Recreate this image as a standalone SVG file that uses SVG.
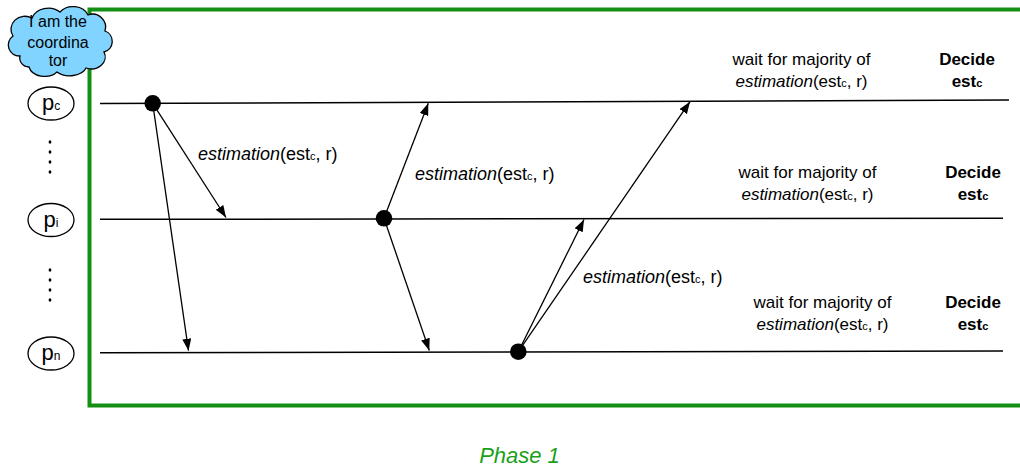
<svg xmlns="http://www.w3.org/2000/svg" width="1020" height="466" viewBox="0 0 1020 466">
<defs>
<style>
.t{font-family:"Liberation Sans",Arial,sans-serif;fill:#000}
.lbl{font-size:18px}
.rt{font-size:17px;text-anchor:middle}
.b{font-weight:bold}
.it{font-style:italic}
.sub{font-size:11px}
.tl{stroke:#000;stroke-width:1.5;fill:none}
.ar{stroke:#000;stroke-width:1.3;fill:none;marker-end:url(#ah)}
.proc{fill:#fff;stroke:#000;stroke-width:1.3}
.pt{font-family:"Liberation Sans",Arial,sans-serif;font-size:22px;text-anchor:middle}
</style>
<marker id="ah" markerUnits="userSpaceOnUse" markerWidth="13" markerHeight="10" refX="12" refY="4.5" orient="auto">
<path d="M0,0 L12,4.5 L0,9 Z" fill="#000"/>
</marker>
</defs>
<rect width="1020" height="466" fill="#fff"/>
<g id="phase-frame">
<path d="M1030,9.5 H89.5 V405.5 H1030" fill="none" stroke="#138f13" stroke-width="4"/>
</g>
<g id="coordinator-cloud">
<path d="M20,56 A11,11 0 0 1 13,36 A14,13 0 0 1 32,18 A17,14 0 0 1 60,12 A16,13 0 0 1 88,15 A13,13 0 0 1 105,31 A11,11 0 0 1 104,52 A14,12 0 0 1 86,68 A17,11 0 0 1 57,72 A16,12 0 0 1 29,67 A9,9 0 0 1 20,56 Z" fill="#80d4ff" stroke="#000" stroke-width="1.3"/>
<text class="t" x="58" y="27" font-size="16" text-anchor="middle">I am the</text>
<text class="t" x="58" y="48" font-size="16" text-anchor="middle">coordina</text>
<text class="t" x="58" y="66" font-size="16" text-anchor="middle">tor</text>
</g>
<g id="pc">
<ellipse class="proc" cx="51" cy="103.5" rx="23" ry="16.5"/>
<text class="pt" x="51" y="110">p<tspan font-size="12">c</tspan></text>
</g>
<g id="pi">
<ellipse class="proc" cx="51" cy="220" rx="23" ry="16.5"/>
<text class="pt" x="51" y="226.5">p<tspan font-size="12">i</tspan></text>
</g>
<g id="pn">
<ellipse class="proc" cx="51" cy="353.5" rx="23" ry="16.5"/>
<text class="pt" x="51" y="360">p<tspan font-size="12">n</tspan></text>
</g>
<g id="ellipsis" fill="#000">
<ellipse cx="50" cy="142" rx="1.4" ry="1.8"/>
<ellipse cx="50" cy="152" rx="1.4" ry="1.8"/>
<ellipse cx="50" cy="162" rx="1.4" ry="1.8"/>
<ellipse cx="50" cy="172" rx="1.4" ry="1.8"/>
<ellipse cx="50" cy="270" rx="1.4" ry="1.8"/>
<ellipse cx="50" cy="280" rx="1.4" ry="1.8"/>
<ellipse cx="50" cy="290" rx="1.4" ry="1.8"/>
<ellipse cx="50" cy="300" rx="1.4" ry="1.8"/>
</g>
<g id="timelines">
<line class="tl" x1="100" y1="103.5" x2="1009" y2="100"/>
<line class="tl" x1="100" y1="219.3" x2="1003" y2="218.3"/>
<line class="tl" x1="100" y1="352.7" x2="1003" y2="351"/>
</g>
<g id="connectors">
<line class="ar" x1="152.7" y1="103.3" x2="226" y2="217.5"/>
<line class="ar" x1="152.7" y1="103.3" x2="188.5" y2="350.7"/>
<line class="ar" x1="384" y1="218.3" x2="428.3" y2="103.3"/>
<line class="ar" x1="384" y1="218.3" x2="429.3" y2="350.5"/>
<line class="ar" x1="518.3" y1="351.7" x2="584" y2="219.5"/>
<line class="ar" x1="518.3" y1="351.7" x2="690" y2="101.7"/>
</g>
<g id="events" fill="#000">
<circle cx="152.7" cy="103.3" r="8.3"/>
<circle cx="384" cy="218.3" r="8.3"/>
<circle cx="518.3" cy="351.7" r="8.3"/>
</g>
<g id="message-labels">
<text class="t lbl" x="198" y="160"><tspan class="it">estimation</tspan>(est<tspan class="sub">c</tspan>, r)</text>
<text class="t lbl" x="415" y="180"><tspan class="it">estimation</tspan>(est<tspan class="sub">c</tspan>, r)</text>
<text class="t lbl" x="583" y="283"><tspan class="it">estimation</tspan>(est<tspan class="sub">c</tspan>, r)</text>
</g>
<g id="wait-pc">
<text class="t rt" x="801.5" y="65">wait for majority of</text>
<text class="t rt" x="801.5" y="87"><tspan class="it">estimation</tspan>(est<tspan class="sub">c</tspan>, r)</text>
</g>
<g id="decide-pc">
<text class="t rt b" x="967" y="65">Decide</text>
<text class="t rt b" x="967" y="87">est<tspan class="sub">c</tspan></text>
</g>
<g id="wait-pi">
<text class="t rt" x="807.5" y="178">wait for majority of</text>
<text class="t rt" x="807.5" y="200"><tspan class="it">estimation</tspan>(est<tspan class="sub">c</tspan>, r)</text>
</g>
<g id="decide-pi">
<text class="t rt b" x="973" y="178">Decide</text>
<text class="t rt b" x="973" y="200">est<tspan class="sub">c</tspan></text>
</g>
<g id="wait-pn">
<text class="t rt" x="822.5" y="307.5">wait for majority of</text>
<text class="t rt" x="822.5" y="329.5"><tspan class="it">estimation</tspan>(est<tspan class="sub">c</tspan>, r)</text>
</g>
<g id="decide-pn">
<text class="t rt b" x="973" y="307.5">Decide</text>
<text class="t rt b" x="973" y="329.5">est<tspan class="sub">c</tspan></text>
</g>
<g id="phase-label">
<text x="519.5" y="462.5" font-family="Liberation Sans, Arial, sans-serif" font-size="22" font-style="italic" fill="#1a9f1a" text-anchor="middle">Phase 1</text>
</g>
</svg>
